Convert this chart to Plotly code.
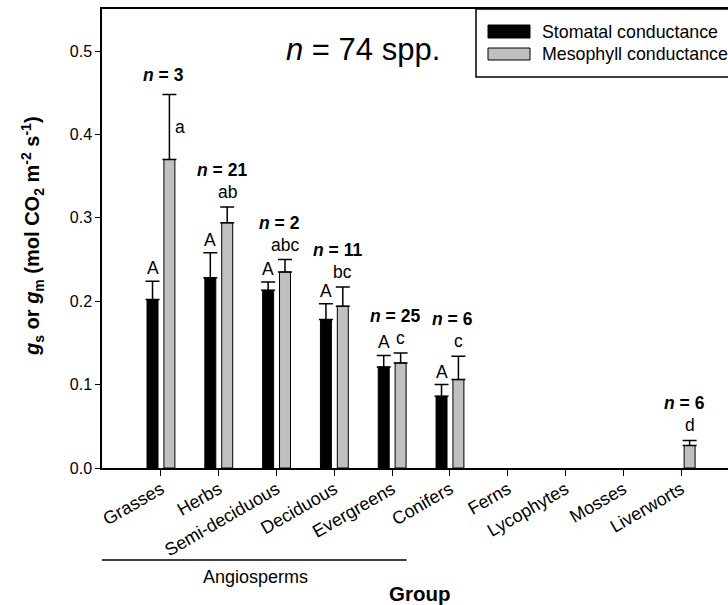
import plotly.graph_objects as go

# Plant groups and conductance summaries (mean and standard error)
groups = ["Grasses", "Herbs", "Semi-deciduous", "Deciduous", "Evergreens",
          "Conifers", "Ferns", "Lycophytes", "Mosses", "Liverworts"]
gs_mean = [0.202, 0.228, 0.213, 0.178, 0.121, 0.086, None, None, None, None]
gs_se = [0.022, 0.030, 0.010, 0.019, 0.014, 0.014, None, None, None, None]
gm_mean = [0.370, 0.294, 0.235, 0.194, 0.126, 0.106, None, None, None, 0.027]
gm_se = [0.078, 0.019, 0.015, 0.023, 0.012, 0.028, None, None, None, 0.006]
n_species = [3, 21, 2, 11, 25, 6, None, None, None, 6]
gs_letters = ["A", "A", "A", "A", "A", "A", None, None, None, None]
gm_letters = ["a", "ab", "abc", "bc", "c", "c", None, None, None, "d"]
gm_letter_beside = [True, False, False, False, False, False, False, False, False, False]

FONT = "Arial, Liberation Sans, sans-serif"
GRAY = "#c0c0c0"

W, H = 728, 605
ML, MR, MT, MB = 102, 0, 9, 137
PW, PH = W - ML - MR, H - MT - MB


def px(x):
    return (x - ML) / PW


def py(y):
    return (H - MB - y) / PH


def txt(size, bold=False):
    return dict(size=size, color="black", family=FONT)


fig = go.Figure()
fig.add_trace(go.Bar(
    x=groups, y=gs_mean, name="Stomatal conductance",
    marker=dict(color="black", line=dict(color="black", width=1)),
    error_y=dict(type="data", array=gs_se, arrayminus=[0] * len(groups),
                 symmetric=False, color="black", thickness=1.5, width=7),
))
fig.add_trace(go.Bar(
    x=groups, y=gm_mean, name="Mesophyll conductance",
    marker=dict(color=GRAY, line=dict(color="black", width=1)),
    error_y=dict(type="data", array=gm_se, arrayminus=[0] * len(groups),
                 symmetric=False, color="black", thickness=1.5, width=7),
))

off = 0.146
ann = []
for i in range(len(groups)):
    tops = []
    if gs_mean[i] is not None:
        t = gs_mean[i] + gs_se[i]
        tops.append(t)
        ann.append(dict(x=i - off, y=t, xref="x", yref="y", text=gs_letters[i],
                        showarrow=False, xanchor="center", yanchor="middle", yshift=13,
                        font=txt(17.5)))
    if gm_mean[i] is not None:
        t = gm_mean[i] + gm_se[i]
        tops.append(t)
        if gm_letter_beside[i]:
            ann.append(dict(x=i + off, y=gm_mean[i] + gm_se[i] / 2, xref="x", yref="y",
                            text=gm_letters[i], showarrow=False, xanchor="left",
                            xshift=4, yanchor="middle", font=txt(17.5)))
        else:
            ann.append(dict(x=i + off, y=t, xref="x", yref="y", text=gm_letters[i],
                            showarrow=False, xanchor="center", yanchor="middle",
                            yshift=15, font=txt(17.5)))
    if n_species[i] is not None:
        shift = 19 if gm_letter_beside[i] else 37
        ann.append(dict(x=i, y=max(tops), xref="x", yref="y",
                        text=f"<b><i>n</i> = {n_species[i]}</b>",
                        showarrow=False, xanchor="center", yanchor="middle",
                        yshift=shift, xshift=3, font=txt(17.5)))

# Overall sample size
ann.append(dict(x=px(363), y=py(50), xref="paper", yref="paper",
                xanchor="center", yanchor="middle",
                text="<i>n</i> = 74 spp.", showarrow=False, font=txt(31)))

# Legend text
ann.append(dict(x=px(540), y=py(31.5), xref="paper", yref="paper",
                xanchor="left", yanchor="middle",
                text="Stomatal conductance", showarrow=False, font=txt(17.8)))
ann.append(dict(x=px(540), y=py(54), xref="paper", yref="paper",
                xanchor="left", yanchor="middle",
                text="Mesophyll conductance", showarrow=False, font=txt(17.8)))

# Axis titles and grouping label
ann.append(dict(x=px(32), y=py(236), xref="paper", yref="paper", textangle=-90,
                xanchor="center", yanchor="middle",
                text="<b><i>g</i><sub>s</sub> or <i>g</i><sub>m</sub> (mol CO<sub>2</sub> "
                     "m<sup>-2</sup> s<sup>-1</sup>)</b>",
                showarrow=False, font=txt(20)))
ann.append(dict(x=px(420), y=py(593), xref="paper", yref="paper",
                xanchor="center", yanchor="middle",
                text="<b>Group</b>", showarrow=False, font=txt(20.5)))
ann.append(dict(x=px(255), y=py(577), xref="paper", yref="paper",
                xanchor="center", yanchor="middle",
                text="Angiosperms", showarrow=False, font=txt(18)))

shapes = [
    # bracket line under the angiosperm groups
    dict(type="line", xref="x", yref="paper", x0=-1.08, x1=4.25,
         y0=py(560), y1=py(560), line=dict(color="black", width=1.5)),
    # legend frame and swatches
    dict(type="rect", xref="paper", yref="paper", x0=px(476), x1=px(760),
         y0=py(77), y1=py(9), line=dict(color="black", width=1.5),
         fillcolor="white", layer="below"),
    dict(type="rect", xref="paper", yref="paper", x0=px(488), x1=px(530),
         y0=py(38), y1=py(25), line=dict(color="black", width=1), fillcolor="black"),
    dict(type="rect", xref="paper", yref="paper", x0=px(488), x1=px(530),
         y0=py(60), y1=py(48), line=dict(color="black", width=1), fillcolor=GRAY),
]

fig.update_layout(
    width=W, height=H,
    margin=dict(l=ML, r=MR, t=MT, b=MB, pad=0),
    paper_bgcolor="white", plot_bgcolor="white",
    barmode="group", bargap=0.416, bargroupgap=0.35,
    showlegend=False,
    font=dict(family=FONT, color="black"),
    annotations=ann, shapes=shapes,
    xaxis=dict(range=[-1.02, 9.81], showline=True, linecolor="black", linewidth=1.5,
               mirror=True, ticks="outside", ticklen=6, tickwidth=1, tickcolor="black",
               tickangle=-30, tickfont=dict(size=18, color="black"),
               ticklabelstandoff=-4,
               showgrid=False, zeroline=False),
    yaxis=dict(range=[0, 0.5504], showline=True, linecolor="black", linewidth=1.5,
               ticks="outside", ticklen=5, tickwidth=1, tickcolor="black",
               tickvals=[0, 0.1, 0.2, 0.3, 0.4, 0.5], tickformat=".1f",
               tickfont=dict(size=16, color="black"),
               showgrid=False, zeroline=False),
)

fig.write_html("out.html")
